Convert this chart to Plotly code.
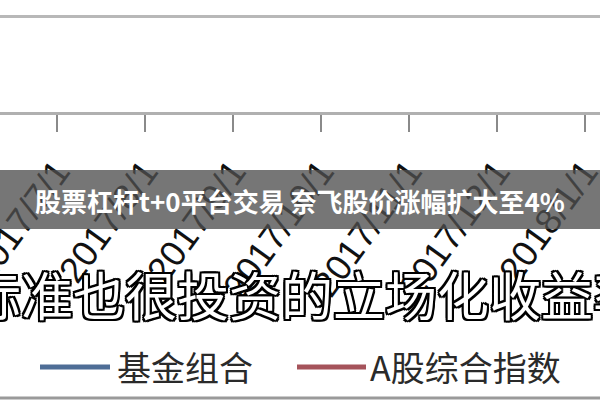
import plotly.graph_objects as go

# ---- data ----
dates = ["2017/7/1", "2017/8/1", "2017/9/1", "2017/10/1", "2017/11/1", "2017/12/1", "2018/1/1"]
fund_values = [None, None, None, None, None, None, None]    # lines lie outside the cropped view
index_values = [None, None, None, None, None, None, None]
series_names = ["基金组合", "A股综合指数"]
series_colors = ["#4e6d96", "#a5535b"]
banner_title = "股票杠杆t+0平台交易 奈飞股价涨幅扩大至4%"
big_caption = "标准也很投资的立场化收益率"

W, H = 600, 400
def px(x):
    return x / W
def py(y):
    return 1 - y / H

fig = go.Figure()
for name, vals, col in zip(series_names, [fund_values, index_values], series_colors):
    fig.add_trace(go.Scatter(x=dates, y=vals, mode="lines", name=name,
                             line=dict(color=col, width=5), showlegend=False))

fig.update_layout(
    width=W, height=H,
    margin=dict(l=0, r=0, t=0, b=0),
    paper_bgcolor="white", plot_bgcolor="white",
    xaxis=dict(
        type="category", categoryorder="array", categoryarray=dates,
        tickvals=dates, ticktext=dates,
        range=[-0.648, 6.17],
        showline=True, linecolor="#b0b0b0", linewidth=3,
        ticks="outside", ticklen=17, tickwidth=2, tickcolor="#8a8a8a",
        tickangle=-54, ticklabelstandoff=4,
        tickfont=dict(family="Liberation Sans", size=36, color="#111111"),
        showgrid=False, zeroline=False, automargin=False,
    ),
    yaxis=dict(
        domain=[1 - 112 / H, 1],
        range=[0, 112 / 96],
        tickvals=[1], showticklabels=False,
        showgrid=True, gridcolor="#b8b8b8", gridwidth=3,
        zeroline=False, showline=False, automargin=False,
    ),
    showlegend=False,
)

shapes = [
    # banner overlay
    dict(type="rect", xref="paper", yref="paper", x0=0, x1=1, y0=py(229), y1=py(170),
         fillcolor="rgba(80,80,80,0.78)", line=dict(width=0), layer="above"),
    # bottom border line
    dict(type="line", xref="paper", yref="paper", x0=0, x1=1, y0=py(398), y1=py(398),
         line=dict(color="#9a9a9a", width=3), layer="above"),
    # legend swatches
    dict(type="line", xref="paper", yref="paper", x0=px(40), x1=px(110), y0=py(367), y1=py(367),
         line=dict(color=series_colors[0], width=5), layer="above"),
    dict(type="line", xref="paper", yref="paper", x0=px(297), x1=px(366), y0=py(367), y1=py(367),
         line=dict(color=series_colors[1], width=5), layer="above"),
]

outline = ", ".join(f"{dx}px {dy}px 0 #000" for dx, dy in
                    [(-2, -2), (2, -2), (-2, 2), (2, 2), (0, -2), (0, 2), (-2, 0), (2, 0)])

annotations = [
    dict(text=banner_title, xref="paper", yref="paper", x=px(300), y=py(200),
         xanchor="center", yanchor="middle", showarrow=False,
         font=dict(family="Noto Sans CJK SC", size=26, color="white", weight="bold")),
    dict(text=big_caption, xref="paper", yref="paper", x=px(307), y=py(293),
         xanchor="center", yanchor="middle", showarrow=False,
         font=dict(family="Noto Sans CJK SC", size=52, color="white", shadow=outline)),
    dict(text=series_names[0], xref="paper", yref="paper", x=px(115), y=py(366),
         xanchor="left", yanchor="middle", showarrow=False,
         font=dict(family="Noto Sans CJK SC", size=34, color="#2a2a2a")),
    dict(text=series_names[1], xref="paper", yref="paper", x=px(368), y=py(366),
         xanchor="left", yanchor="middle", showarrow=False,
         font=dict(family="Noto Sans CJK SC", size=34, color="#2a2a2a")),
]
fig.update_layout(shapes=shapes, annotations=annotations)

fig.write_html("out.html", config={"displayModeBar": False},
               post_script="document.body.style.margin='0';document.body.style.overflow='hidden';")
